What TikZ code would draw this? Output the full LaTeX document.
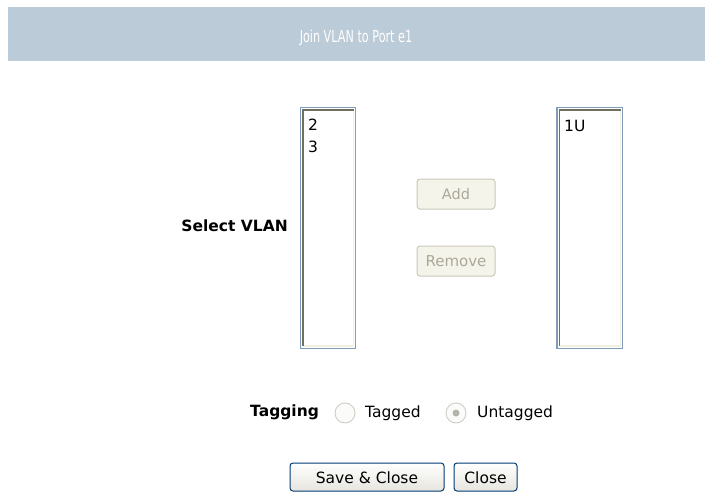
\documentclass[tikz,border=0pt]{standalone}
\usepackage{fontspec}
\setmainfont{DejaVu Sans}
\begin{document}
\begin{tikzpicture}[x=1pt,y=-1pt,
  txt/.style={inner sep=0pt,font=\fontsize{15.5}{18}\selectfont,text=black},
  btxt/.style={txt,font=\fontsize{15.5}{18}\selectfont\bfseries},
  disbtn/.style={draw=disborder,fill=disfill,rounded corners=3pt,line width=1pt},
  okbtn/.style={draw=xpblue,rounded corners=3pt,line width=1pt,top color=white,bottom color=btnbot},
  radio/.style={circle,draw=radioborder,fill=radiofill,line width=0.9pt,minimum size=20pt,inner sep=0pt}]
\definecolor{band}{HTML}{BCCBD8}
\definecolor{lbblue}{HTML}{7F9DB9}
\definecolor{lbdark}{HTML}{716F64}
\definecolor{lblight}{HTML}{F1EFE2}
\definecolor{disborder}{HTML}{CAC8BB}
\definecolor{disfill}{HTML}{F5F4EA}
\definecolor{distext}{HTML}{ACA899}
\definecolor{xpblue}{HTML}{003C74}
\definecolor{btnbot}{HTML}{E6E5DE}
\definecolor{radioborder}{HTML}{CFCEC6}
\definecolor{radiofill}{HTML}{FBFBF9}
\definecolor{radiodot}{HTML}{B5B4AC}
\useasboundingbox (0,0) rectangle (705,495);
\fill[white] (0,0) rectangle (705,495);
% header band
\fill[band] (8,7) rectangle (705,61);
\node[inner sep=0pt,text=white,font=\fontsize{16.5}{18}\selectfont] (title) at (356,38) {\scalebox{0.68}[1]{Join VLAN to Port e1}};
% left listbox
\fill[white] (300.5,107.5) rectangle (355.5,348.5);
\draw[lblight,line width=1.5pt] (353.5,110) -- (353.5,346) -- (303,346);
\draw[lbdark,line width=1.5pt] (303,346) -- (303,110) -- (353.5,110);
\draw[lbblue,line width=1.5pt] (300.5,107.5) rectangle (355.5,348.5);
\node[txt,anchor=west] (v2) at (308,125) {2};
\node[txt,anchor=west] (v3) at (308,147) {3};
% right listbox
\fill[white] (557,107.5) rectangle (622.5,348.5);
\draw[lblight,line width=1.5pt] (620.5,110) -- (620.5,346) -- (559.5,346);
\draw[lbdark,line width=1.5pt] (559.5,346) -- (559.5,110) -- (620.5,110);
\draw[lbblue,line width=1.5pt] (557,107.5) rectangle (622.5,348.5);
\node[txt,anchor=west] (u1) at (564,126) {1U};
% label
\node[btxt,anchor=east] (sel) at (288,226) {Select VLAN};
% add / remove
\draw[disbtn] (417,179) rectangle (495,209);
\node[txt,text=distext,font=\fontsize{14.5}{17}\selectfont] (add) at (456,194) {Add};
\draw[disbtn] (417,246) rectangle (495,276);
\node[txt,text=distext,font=\fontsize{15}{17}\selectfont] (rem) at (456,261) {Remove};
% tagging row
\node[btxt,anchor=west] (tag) at (250,412) {Tagging};
\node[radio] (r1) at (345,413) {};
\node[txt,anchor=west] (tagged) at (365,413) {Tagged};
\node[radio] (r2) at (456,413) {};
\fill[radiodot] (r2.center) circle (3.5pt);
\node[txt,anchor=west] (untagged) at (477,413) {Untagged};
% bottom buttons
\draw[okbtn] (290,463) rectangle (444,491);
\node[txt] (save) at (367,478) {Save \& Close};
\draw[okbtn] (454,463) rectangle (517,491);
\node[txt] (close) at (485.5,478) {Close};
\end{tikzpicture}
\end{document}
